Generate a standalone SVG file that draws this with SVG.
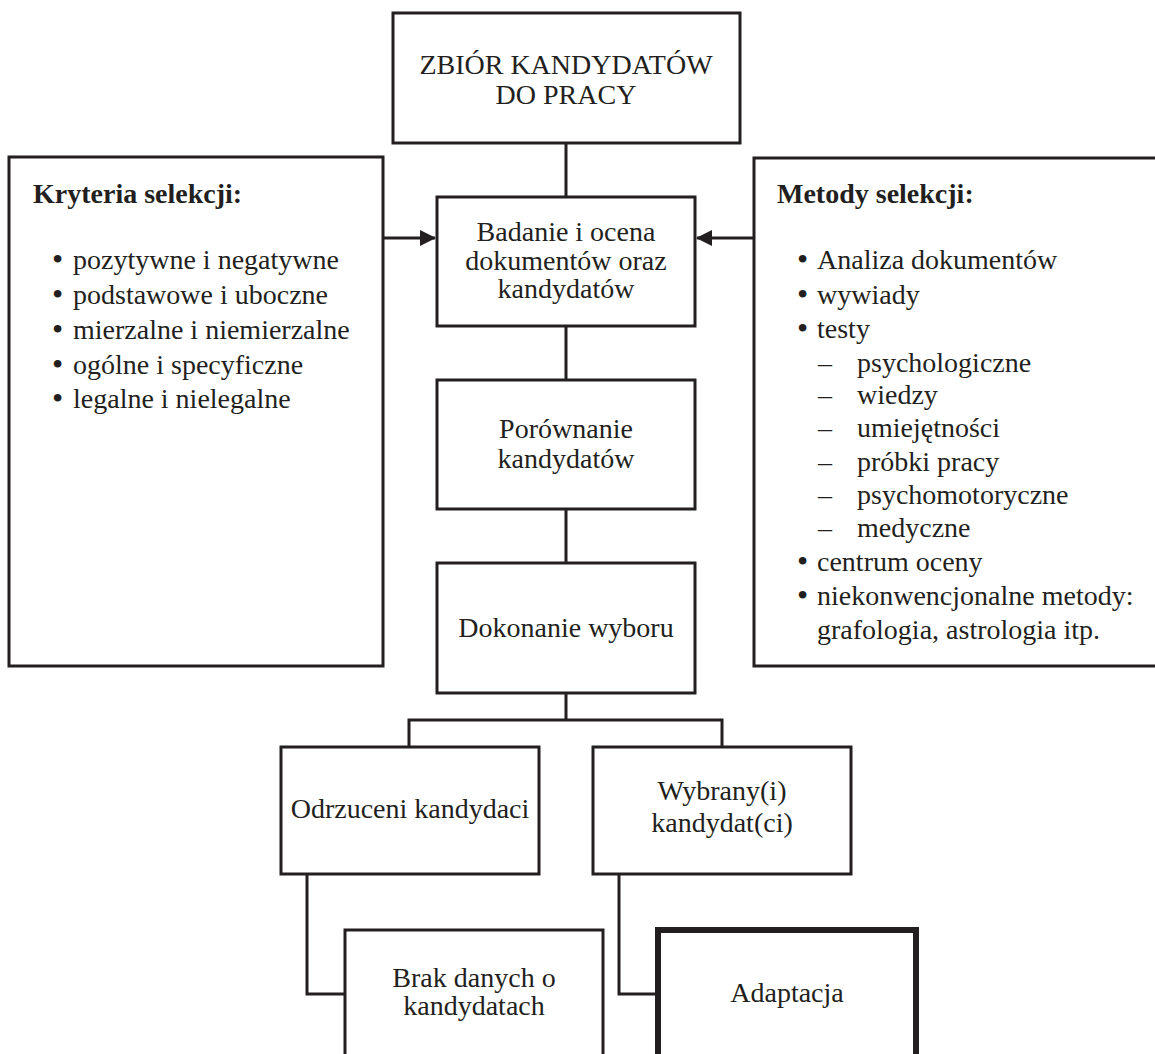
<svg xmlns="http://www.w3.org/2000/svg" width="1155" height="1054" viewBox="0 0 1155 1054">
<defs>
<style>
.box{fill:#fff;stroke:#231f20;stroke-width:3}
.thick{fill:#fff;stroke:#231f20;stroke-width:6}
.ln{fill:none;stroke:#231f20;stroke-width:3}
text{font-family:"Liberation Serif","Times New Roman",serif;font-size:28px;fill:#231f20}
.c{text-anchor:middle}
.b{font-weight:bold}
.bu{font-size:32px}
</style>
<marker id="ah" markerWidth="16" markerHeight="16" viewBox="0 0 16 16" refX="15" refY="8" orient="auto" markerUnits="userSpaceOnUse">
<path d="M0,0 L16,8 L0,16 Z" fill="#231f20"/>
</marker>
</defs>
<rect width="1155" height="1054" fill="#fff"/>
<g id="connectors">
<line class="ln" x1="566" y1="143" x2="566" y2="197"/>
<line class="ln" x1="566" y1="326" x2="566" y2="380"/>
<line class="ln" x1="566" y1="509" x2="566" y2="563"/>
<polyline class="ln" points="566,693 566,720"/>
<polyline class="ln" points="409,747 409,720 722,720 722,747"/>
<polyline class="ln" points="307,874 307,994 345,994"/>
<polyline class="ln" points="619,874 619,994 657,994"/>
<line class="ln" x1="383" y1="238" x2="435" y2="238" marker-end="url(#ah)"/>
<line class="ln" x1="754" y1="238" x2="697" y2="238" marker-end="url(#ah)"/>
</g>
<g id="zbior">
<rect class="box" x="393" y="13" width="347" height="130"/>
<text class="c" x="566" y="74">ZBIÓR KANDYDATÓW</text>
<text class="c" x="566" y="104">DO PRACY</text>
</g>
<g id="kryteria">
<rect class="box" x="9" y="157" width="374" height="509"/>
<text class="b" x="33" y="203">Kryteria selekcji:</text>
<text class="bu" x="52" y="270">•</text><text x="73" y="269">pozytywne i negatywne</text>
<text class="bu" x="52" y="305">•</text><text x="73" y="304">podstawowe i uboczne</text>
<text class="bu" x="52" y="340">•</text><text x="73" y="339">mierzalne i niemierzalne</text>
<text class="bu" x="52" y="375">•</text><text x="73" y="374">ogólne i specyficzne</text>
<text class="bu" x="52" y="409">•</text><text x="73" y="408">legalne i nielegalne</text>
</g>
<g id="metody">
<rect class="box" x="754" y="158" width="410" height="508"/>
<text class="b" x="777" y="203">Metody selekcji:</text>
<text class="bu" x="797" y="270">•</text><text x="817" y="269">Analiza dokumentów</text>
<text class="bu" x="797" y="305">•</text><text x="817" y="304">wywiady</text>
<text class="bu" x="797" y="339">•</text><text x="817" y="338">testy</text>
<text x="818" y="372">–</text><text x="857" y="372">psychologiczne</text>
<text x="818" y="404">–</text><text x="857" y="404">wiedzy</text>
<text x="818" y="437">–</text><text x="857" y="437">umiejętności</text>
<text x="818" y="471">–</text><text x="857" y="471">próbki pracy</text>
<text x="818" y="504">–</text><text x="857" y="504">psychomotoryczne</text>
<text x="818" y="537">–</text><text x="857" y="537">medyczne</text>
<text class="bu" x="797" y="572">•</text><text x="817" y="571">centrum oceny</text>
<text class="bu" x="797" y="606">•</text><text x="817" y="605">niekonwencjonalne metody:</text>
<text x="817" y="639">grafologia, astrologia itp.</text>
</g>
<g id="badanie">
<rect class="box" x="437" y="197" width="258" height="129"/>
<text class="c" x="566" y="241">Badanie i ocena</text>
<text class="c" x="566" y="270">dokumentów oraz</text>
<text class="c" x="566" y="298">kandydatów</text>
</g>
<g id="porownanie">
<rect class="box" x="437" y="380" width="258" height="129"/>
<text class="c" x="566" y="438">Porównanie</text>
<text class="c" x="566" y="468">kandydatów</text>
</g>
<g id="dokonanie">
<rect class="box" x="437" y="563" width="258" height="130"/>
<text class="c" x="566" y="637">Dokonanie wyboru</text>
</g>
<g id="odrzuceni">
<rect class="box" x="281" y="747" width="258" height="127"/>
<text class="c" x="410" y="818">Odrzuceni kandydaci</text>
</g>
<g id="wybrani">
<rect class="box" x="593" y="747" width="258" height="127"/>
<text class="c" x="722" y="800">Wybrany(i)</text>
<text class="c" x="722" y="832">kandydat(ci)</text>
</g>
<g id="brak">
<rect class="box" x="345" y="930" width="258" height="140"/>
<text class="c" x="474" y="987">Brak danych o</text>
<text class="c" x="474" y="1015">kandydatach</text>
</g>
<g id="adaptacja">
<rect class="thick" x="658" y="930" width="258" height="140"/>
<text class="c" x="787" y="1002">Adaptacja</text>
</g>
</svg>
